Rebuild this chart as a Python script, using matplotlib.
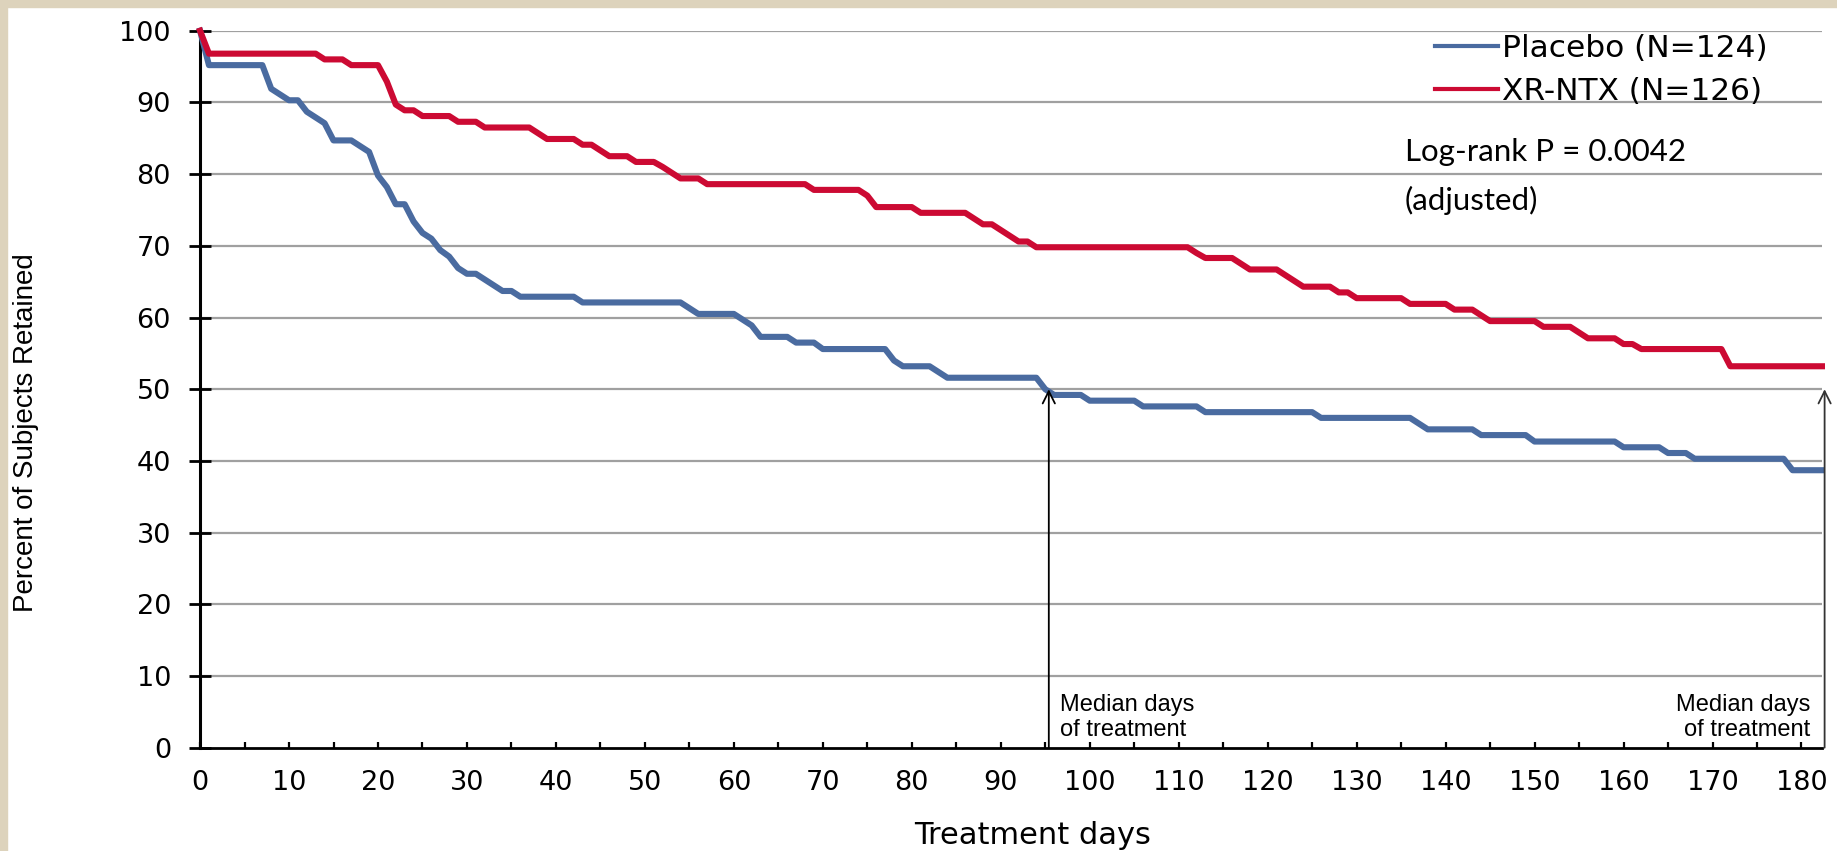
import matplotlib
matplotlib.use('Agg')
import matplotlib.pyplot as plt
from matplotlib.patches import Rectangle
from matplotlib.lines import Line2D

# Kaplan-Meier style retention curves
placebo_days = [0, 1, 7, 8, 9, 10, 11, 12, 13, 14, 15, 17, 18, 19, 20, 21, 22, 23,
                24, 25, 26, 27, 28, 29, 30, 31, 32, 33, 34, 35, 36, 42, 43, 54, 55,
                56, 60, 61, 62, 63, 66, 67, 69, 70, 77, 78, 79, 82, 83, 84, 94, 95,
                96, 99, 100, 105, 106, 112, 113, 125, 126, 136, 137, 138, 143, 144,
                149, 150, 159, 160, 164, 165, 167, 168, 178, 179, 182.3]
placebo_pct = [100, 95.2, 95.2, 91.9, 91.1, 90.3, 90.3, 88.7, 87.9, 87.1, 84.7, 84.7,
               83.9, 83.1, 79.8, 78.2, 75.8, 75.8, 73.4, 71.8, 71.0, 69.4, 68.5, 66.9,
               66.1, 66.1, 65.3, 64.5, 63.7, 63.7, 62.9, 62.9, 62.1, 62.1, 61.3, 60.5,
               60.5, 59.7, 58.9, 57.3, 57.3, 56.5, 56.5, 55.6, 55.6, 54.0, 53.2, 53.2,
               52.4, 51.6, 51.6, 50.0, 49.2, 49.2, 48.4, 48.4, 47.6, 47.6, 46.8, 46.8,
               46.0, 46.0, 45.2, 44.4, 44.4, 43.6, 43.6, 42.7, 42.7, 41.9, 41.9, 41.1,
               41.1, 40.3, 40.3, 38.7, 38.7]

xrntx_days = [0, 1, 13, 14, 16, 17, 20, 21, 22, 23, 24, 25, 28, 29, 31, 32, 37, 38,
              39, 42, 43, 44, 45, 46, 48, 49, 51, 52, 53, 54, 56, 57, 68, 69, 74, 75,
              76, 80, 81, 86, 87, 88, 89, 90, 91, 92, 93, 94, 111, 112, 113, 116, 117,
              118, 121, 122, 123, 124, 127, 128, 129, 130, 135, 136, 140, 141, 143,
              144, 145, 150, 151, 154, 155, 156, 159, 160, 161, 162, 171, 172, 182.3]
xrntx_pct = [100, 96.8, 96.8, 96.0, 96.0, 95.2, 95.2, 92.9, 89.7, 88.9, 88.9, 88.1,
             88.1, 87.3, 87.3, 86.5, 86.5, 85.7, 84.9, 84.9, 84.1, 84.1, 83.3, 82.5,
             82.5, 81.7, 81.7, 81.0, 80.2, 79.4, 79.4, 78.6, 78.6, 77.8, 77.8, 77.0,
             75.4, 75.4, 74.6, 74.6, 73.8, 73.0, 73.0, 72.2, 71.4, 70.6, 70.6, 69.8,
             69.8, 69.0, 68.3, 68.3, 67.5, 66.7, 66.7, 65.9, 65.1, 64.3, 64.3, 63.5,
             63.5, 62.7, 62.7, 61.9, 61.9, 61.1, 61.1, 60.3, 59.5, 59.5, 58.7, 58.7,
             57.9, 57.1, 57.1, 56.3, 56.3, 55.6, 55.6, 53.2, 53.2]

series_labels = ['Placebo (N=124)', 'XR-NTX (N=126)']
median_days = [95.4, 182.6]
median_pct = [50, 50]
x_ticks = list(range(0, 181, 10))
y_ticks = list(range(0, 101, 10))

blue = '#4A6BA0'
red = '#CC0A33'

fig = plt.figure(figsize=(18.37, 8.51), dpi=100)
ax = fig.add_axes([0.1089, 0.1214, 0.8829, 0.8425])

# beige textured frame on top/left edge
fig.patches.append(Rectangle((0, 1 - 7 / 851), 1, 7 / 851, transform=fig.transFigure,
                             color='#DDD3BC', zorder=0))
fig.patches.append(Rectangle((0, 0), 7 / 1837, 1, transform=fig.transFigure,
                             color='#DDD3BC', zorder=0))

for y in y_ticks[1:]:
    ax.axhline(y, color='#A0A0A0', lw=1.6, zorder=1)

ax.plot(placebo_days, placebo_pct, color=blue, lw=4.4, solid_joinstyle='round',
        clip_on=False, zorder=3)
ax.plot(xrntx_days, xrntx_pct, color=red, lw=4.4, solid_joinstyle='round',
        clip_on=False, zorder=3)

ax.set_xlim(0, 182.3)
ax.set_ylim(0, 100)
for s in ['top', 'right']:
    ax.spines[s].set_visible(False)
ax.spines['left'].set_linewidth(2.2)
ax.spines['bottom'].set_linewidth(2.0)
ax.set_yticks(y_ticks)
ax.set_xticks(x_ticks)
ax.set_xticks(list(range(5, 181, 10)), minor=True)
ax.tick_params(axis='y', direction='inout', length=16, width=2, pad=13,
               labelsize=19.5)
ax.tick_params(axis='x', which='both', direction='in', length=4, width=1.6,
               pad=16, labelsize=19.5)

# median arrows
for d, p, c in zip(median_days, median_pct, ['black', '#333333']):
    ax.annotate('', xy=(d, p), xytext=(d, 0), annotation_clip=False,
                arrowprops=dict(arrowstyle='->', color=c, lw=1.3,
                                mutation_scale=22, shrinkA=0, shrinkB=0))
ax.text(96.7, 4.2, 'Median days\nof treatment', ha='left', va='center',
        fontsize=17, family='Liberation Sans', linespacing=1.2)
ax.text(181.0, 4.2, 'Median days\nof treatment', ha='right', va='center',
        fontsize=17, family='Liberation Sans', linespacing=1.2, multialignment='right')

handles = [Line2D([], [], color=blue, lw=3), Line2D([], [], color=red, lw=3)]
fig.legend(handles, series_labels, loc='upper left', bbox_to_anchor=(0.7812, 0.960),
           frameon=False, fontsize=22.5, handlelength=2.0, handletextpad=0.15,
           labelspacing=0.45, borderpad=0, borderaxespad=0)

fig.text(1405 / 1837, 1 - 152 / 851, 'Log-rank P = 0.0042', family='Lato',
         fontsize=22.5, ha='left', va='center')
fig.text(1405 / 1837, 1 - 200 / 851, '(adjusted)', family='Lato',
         fontsize=22.5, ha='left', va='center')

fig.text(1033 / 1837, 1 - 836 / 851, 'Treatment days', fontsize=22,
         ha='center', va='center')
fig.text(26 / 1837, 1 - 433 / 851, 'Percent of Subjects Retained', rotation=90,
         family='Liberation Sans', fontsize=20, ha='center', va='center')

fig.savefig('out.png', dpi=100, facecolor='white')
